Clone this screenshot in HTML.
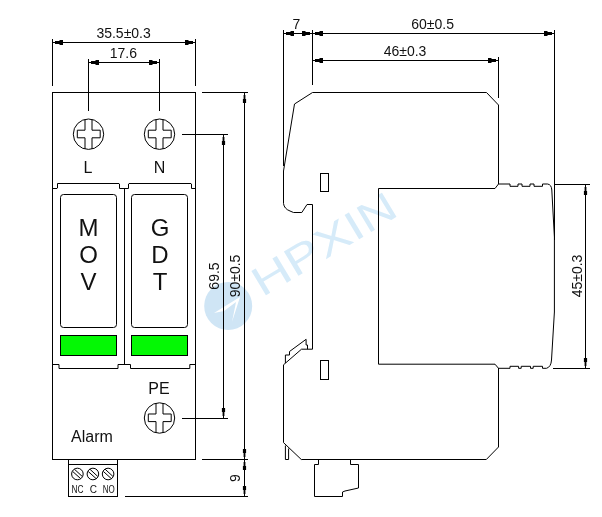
<!DOCTYPE html>
<html><head><meta charset="utf-8">
<style>
html,body{margin:0;padding:0;background:#fff;}
svg{display:block;}
text{font-family:"Liberation Sans",sans-serif;fill:#111;}
.l{stroke:#000;stroke-width:1;fill:none;shape-rendering:crispEdges;}
.s{stroke:#000;stroke-width:1;fill:none;}
.a{fill:#000;stroke:none;}
.d{font-size:14px;text-anchor:middle;}
</style></head><body>
<svg style="will-change:transform" width="602" height="517" viewBox="0 0 602 517">
<rect width="602" height="517" fill="#fff"/>
<defs><path id="ar" d="M2.5,-1.4H7V-2.4H10.5V2.4H7V1.4H2.5Z"/><path id="av" d="M2.5,-0.9H6.5V-1.6H10.5V1.6H6.5V0.9H2.5Z"/></defs>

<!-- watermark -->
<g fill="#cfe5f5">
<circle cx="228.2" cy="306" r="24"/>
<path d="M240,297L214,313L224,311L236,302L232,322Z" fill="#fff"/>
<text transform="translate(262.2,297.5) rotate(-31)" font-size="41" textLength="161" lengthAdjust="spacingAndGlyphs" style="fill:#d6ebf9">HPXIN</text>
</g>

<!-- LEFT VIEW -->
<rect class="l" x="52.5" y="92.5" width="143" height="367"/>
<!-- top dims -->
<path class="l" d="M52.5,39V86 M195.5,39V86 M52.5,42.5H195.5 M88.5,59V111 M159.5,59V111 M88.5,62.5H159.5"/>
<g class="a"><use href="#ar" transform="translate(52.5,42.5) rotate(0)"/><use href="#ar" transform="translate(195.5,42.5) rotate(180)"/><use href="#ar" transform="translate(88.5,62.5) rotate(0)"/><use href="#ar" transform="translate(159.5,62.5) rotate(180)"/></g>
<text class="d" x="123.6" y="38">35.5±0.3</text>
<text class="d" x="123.4" y="58">17.6</text>

<!-- screws -->
<g class="s">
<circle cx="88.5" cy="134.2" r="15.2"/>
<path d="M85,119.4V130.2H77.3V137.8H85V148.9 M92,148.9V137.8H100.2V130.2H92V119.4"/>
<circle cx="159.5" cy="134.2" r="15.2"/>
<path transform="translate(71,0)" d="M85,119.4V130.2H77.3V137.8H85V148.9 M92,148.9V137.8H100.2V130.2H92V119.4"/>
<circle cx="159.5" cy="418" r="15.2"/>
<path transform="translate(71,283.8)" d="M85,119.4V130.2H77.3V137.8H85V148.9 M92,148.9V137.8H100.2V130.2H92V119.4"/>
</g>
<text x="88" y="173" font-size="16" text-anchor="middle">L</text>
<text x="159.5" y="173" font-size="16" text-anchor="middle">N</text>
<text x="159" y="393.5" font-size="16" text-anchor="middle">PE</text>
<text x="71" y="441.5" font-size="16">Alarm</text>

<!-- modules -->
<path class="s" d="M52.5,188.5H57L57.5,188V183.5H119L119.5,184V188.5H128.5V184L129,183.5H191L191.5,184V188.5H195.5 M124.5,188.5V364.5"/>
<path class="s" d="M52.5,364.5H59V368.5H118V364.5H130.5V368.5H189.8V364.5H195.5"/>
<rect class="s" x="60.5" y="194.5" width="56" height="133" rx="3"/>
<rect class="s" x="131.5" y="194.5" width="56" height="133" rx="3"/>
<rect x="60.5" y="335.5" width="56" height="20" fill="#04f804" stroke="#000" stroke-width="1" shape-rendering="crispEdges"/>
<rect x="131.5" y="335.5" width="56" height="20" fill="#04f804" stroke="#000" stroke-width="1" shape-rendering="crispEdges"/>
<g font-size="24" text-anchor="middle">
<text x="88.5" y="236.4">M</text><text x="88.5" y="263.3">O</text><text x="88.5" y="290.3">V</text>
<text x="160" y="236.4">G</text><text x="160" y="263.3">D</text><text x="160" y="290.3">T</text>
</g>

<!-- terminal block -->
<path class="l" d="M68.5,459.5V496.5H117.5V459.5 M68.5,464.5H117.5"/>
<g class="s">
<circle cx="77.4" cy="474" r="5.8"/><path d="M72.6,471.4L80.6,478.6 M74.4,469.2L82.2,476.4"/>
<circle cx="92.9" cy="474" r="5.8"/><path d="M88.1,471.4L96.1,478.6 M89.9,469.2L97.7,476.4"/>
<circle cx="108.1" cy="474" r="5.8"/><path d="M103.3,471.4L111.3,478.6 M105.1,469.2L112.9,476.4"/>
</g>
<g font-size="10" text-anchor="middle">
<text x="77.5" y="492.8" textLength="12" lengthAdjust="spacingAndGlyphs">NC</text>
<text x="93.4" y="492.8">C</text>
<text x="108.8" y="492.8" textLength="12" lengthAdjust="spacingAndGlyphs">NO</text>
</g>

<!-- right-side dims of left view -->
<path class="l" d="M182,134.5H228 M182,418.5H228 M223.5,134.5V418.5 M202,92.5H248 M202,459.5H248 M125,496.5H248 M244.5,92.5V496.5"/>
<g class="a"><use href="#av" transform="translate(223.5,134.5) rotate(90)"/><use href="#av" transform="translate(223.5,418.5) rotate(-90)"/><use href="#av" transform="translate(244.5,92.5) rotate(90)"/><use href="#av" transform="translate(244.5,459.5) rotate(-90)"/><use href="#av" transform="translate(244.5,459.5) rotate(90)"/><use href="#av" transform="translate(244.5,496.5) rotate(-90)"/></g>
<text class="d" transform="translate(219,276) rotate(-90)">69.5</text>
<text class="d" transform="translate(240,276) rotate(-90)">90±0.5</text>
<text class="d" transform="translate(240,478) rotate(-90)">9</text>

<!-- RIGHT VIEW -->
<path class="l" d="M283.5,30V166 M312.5,30V85 M283.5,33.5H554.5 M312.5,60.5H498.5 M498.5,56.5V98 M554.5,30V240"/>
<g class="a"><use href="#ar" transform="translate(283.5,33.5) rotate(0)"/><use href="#ar" transform="translate(312.5,33.5) rotate(180)"/><use href="#ar" transform="translate(312.5,33.5) rotate(0)"/><use href="#ar" transform="translate(554.5,33.5) rotate(180)"/><use href="#ar" transform="translate(312.5,60.5) rotate(0)"/><use href="#ar" transform="translate(498.5,60.5) rotate(180)"/></g>
<text class="d" x="296.5" y="28.5">7</text>
<text class="d" x="432.6" y="28.5">60±0.5</text>
<text class="d" x="405" y="56">46±0.3</text>

<!-- profile -->
<path class="s" d="M498.5,184V105L486.5,92.5H312.5L294.5,104L283.5,171V203.5C284,207 286,209.5 290,211L293.5,212.5H301.8L307,204.5H312.5V349.2H301.5L283.5,364.8V442.6L301.3,459.5H486.3L498.5,447V368"/>
<path class="s" d="M307.5,349.2V345H306.1V339.3L289.5,351.5V355H285.4V363"/>
<path class="s" d="M285.4,445.5V459.5H288.6V448.5"/>
<rect class="l" x="320.5" y="173.5" width="8" height="18"/>
<rect class="l" x="320.5" y="360.5" width="8" height="19"/>
<!-- cutout -->
<path class="s" d="M498.5,184L495,188.5H378.5V364.2H495L498.5,368.3"/>
<path class="s" d="M498.5,184H510V186.3H518V184H522V186.3H530V184H534V186.3H542.5V184H547.5Q551.5,184.5 551.8,190L554.4,237V312L551.5,360Q551,367 546.5,368.3H542.5V366.3H533.2V368.3H530.5V366.3H521.2V368.3H518.6V366.3H510V368.3H498.5"/>
<!-- bottom block -->
<path class="s" d="M318.5,459.5V464.5H314.5V496.5H342.5V492L345,491L358.5,488V464.5H350.5V459.5"/>
<!-- 45 dim -->
<path class="l" d="M554.5,184.5H589.5 M553,368.5H589.5 M585.5,184.5V368.5"/>
<g class="a"><use href="#av" transform="translate(585.5,184.5) rotate(90)"/><use href="#av" transform="translate(585.5,368.5) rotate(-90)"/></g>
<text class="d" transform="translate(581.5,276) rotate(-90)">45±0.3</text>
</svg>
</body></html>
